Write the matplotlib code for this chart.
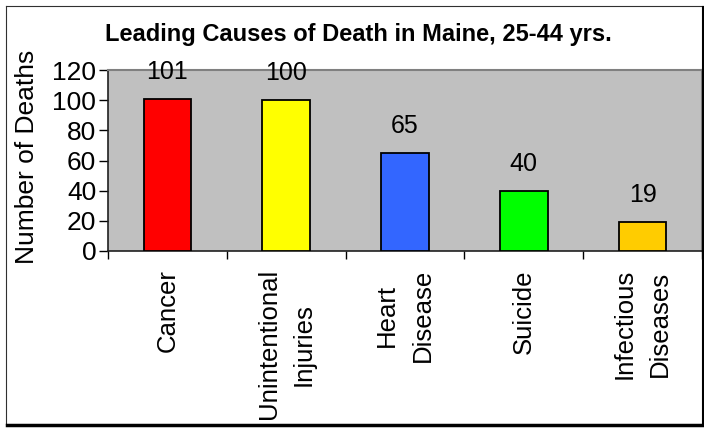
import matplotlib
matplotlib.use("Agg")
import matplotlib.pyplot as plt
from matplotlib.lines import Line2D

categories = ["Cancer", "Unintentional\nInjuries", "Heart\nDisease", "Suicide", "Infectious\nDiseases"]
deaths = [101, 100, 65, 40, 19]
colors = ["#FF0000", "#FFFF00", "#3366FF", "#00FF00", "#FFCC00"]
yticks = [0, 20, 40, 60, 80, 100, 120]
title = "Leading Causes of Death in Maine, 25-44 yrs."
ylabel = "Number of Deaths"

plt.rcParams['font.family'] = ['Liberation Sans', 'DejaVu Sans']

W, H = 704, 428
fig = plt.figure(figsize=(W / 100, H / 100), dpi=100)
fig.patch.set_facecolor("white")

ax = fig.add_axes([108 / W, 1 - 251 / H, (702 - 108) / W, (251 - 70) / H])
ax.set_facecolor("#C0C0C0")

x = list(range(len(categories)))
ax.bar(x, deaths, width=0.4, color=colors, edgecolor="black", linewidth=1.3, zorder=3)

for xi, v in zip(x, deaths):
    ax.annotate(str(v), (xi, v), xytext=(0, 19.5), textcoords="offset points",
                ha="center", va="center", fontsize=18, zorder=4, annotation_clip=False)

ax.set_xlim(-0.5, len(categories) - 0.5)
ax.set_ylim(0, 120)
ax.set_yticks(yticks)
ax.set_yticklabels([str(t) for t in yticks], fontsize=19)
ax.tick_params(axis="y", direction="out", length=6.5, width=1, pad=2, color="black")

ax.set_xticks(x)
ax.set_xticklabels(categories, rotation=90, fontsize=18.5, ha="center", va="top",
                   multialignment="center", linespacing=1.6)
ax.tick_params(axis="x", which="major", length=0, pad=13)
ax.set_xticks([i - 0.5 for i in range(len(categories) + 1)], minor=True)
ax.tick_params(axis="x", which="minor", direction="out", length=6, width=1, color="black")

for side in ["top", "right"]:
    ax.spines[side].set_color("#808080")
    ax.spines[side].set_linewidth(1.5)
for side in ["left", "bottom"]:
    ax.spines[side].set_color("#202020")
    ax.spines[side].set_linewidth(1.2)

fig.text(358 / W, 1 - 35 / H, title, ha="center", va="center", fontsize=17, fontweight="bold")
fig.text(27 / W, 1 - 157 / H, ylabel, ha="center", va="center", rotation=90, fontsize=19)

# figure border with shadow
fig.add_artist(Line2D([6 / W, 6 / W], [1 - 6 / H, 1 - 424 / H], color="#303030", lw=0.8))
fig.add_artist(Line2D([6 / W, 703 / W], [1 - 6 / H, 1 - 6 / H], color="#303030", lw=0.8))
fig.add_artist(Line2D([7 / W, 704 / W], [1 - 425 / H, 1 - 425 / H], color="black", lw=2.5))
fig.add_artist(Line2D([703 / W, 703 / W], [1 - 7 / H, 1 - 425 / H], color="black", lw=1.5))

fig.savefig("out.png", dpi=100)
